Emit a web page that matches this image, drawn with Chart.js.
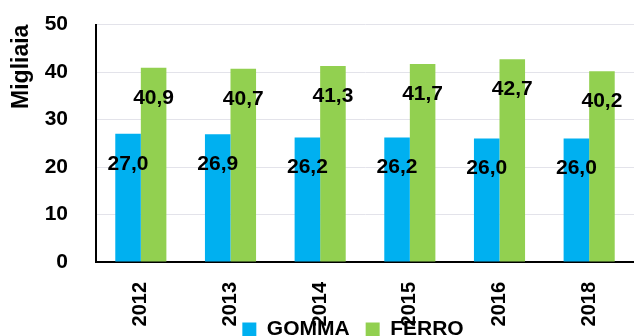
<!DOCTYPE html>
<html>
<head>
<meta charset="utf-8">
<script src="https://cdn.jsdelivr.net/npm/chart.js@4"></script>
<style>
  html, body { margin: 0; padding: 0; background: #fff; overflow: hidden; }
  #wrap { width: 634px; height: 336px; overflow: hidden; }
  #box { width: 634px; height: 389px; margin-top: -16px; position: relative; }
</style>
</head>
<body>
<div id="wrap"><div id="box"><canvas id="canvas"></canvas></div></div>
<script>
// data
const years = ['2012', '2013', '2014', '2015', '2016', '2018']
const gomma = [27.0, 26.9, 26.2, 26.2, 26.0, 26.0]
const ferro = [40.9, 40.7, 41.3, 41.7, 42.7, 40.2]
const yTicks = [0, 10, 20, 30, 40, 50]

const FONT = "'Liberation Sans', Arial, sans-serif"

// values written inside the bars, near the top
const barLabels = {
    id: 'barLabels',
    afterDatasetsDraw(chart) {
        const ctx = chart.ctx
        ctx.save()
        ctx.font = 'bold 21px ' + FONT
        ctx.fillStyle = '#000'
        ctx.textAlign = 'center'
        ctx.textBaseline = 'middle'
        chart.data.datasets.forEach((ds, i) => {
            chart.getDatasetMeta(i).data.forEach((bar, j) => {
                let txt = ds.data[j].toFixed(1).replace('.', ',')
                ctx.fillText(txt, bar.x, bar.y + 30)
            })
        })
        ctx.restore()
    }
}

// the legend sits over the bottom of the year labels, like in the original
const moveLegend = {
    id: 'moveLegend',
    afterLayout(chart) {
        const lg = chart.legend
        const h = lg.height
        lg.top = chart.chartArea.bottom + 41
        lg.bottom = lg.top + h
        lg.left -= 12
        lg.right -= 12
    }
}

new Chart(document.querySelector('#canvas'), {
    type: 'bar',
    data: {
        labels: years,
        datasets: [{
            label: 'GOMMA',
            data: gomma,
            backgroundColor: '#00B0F0',
            barPercentage: 1,
            categoryPercentage: 0.57
        }, {
            label: 'FERRO',
            data: ferro,
            backgroundColor: '#92D050',
            barPercentage: 1,
            categoryPercentage: 0.57
        }]
    },
    options: {
        responsive: true,
        maintainAspectRatio: false,
        animation: false,
        layout: { padding: 0 },
        scales: {
            x: {
                grid: { display: false },
                border: { color: '#000', width: 2 },
                ticks: {
                    color: '#000',
                    minRotation: 90,
                    maxRotation: 90,
                    padding: 12,
                    font: { family: FONT, size: 20, weight: 'bold' }
                },
                afterFit: (scale) => { scale.height = 64 }
            },
            y: {
                min: 0,
                max: 50,
                afterBuildTicks: (scale) => { scale.ticks = yTicks.map(v => ({ value: v })) },
                grid: { color: '#e3e3ea', lineWidth: 1, drawTicks: false },
                border: { color: '#000', width: 2 },
                ticks: {
                    color: '#000',
                    padding: 28,
                    font: { family: FONT, size: 21, weight: 'bold' }
                },
                title: {
                    display: true,
                    text: 'Migliaia',
                    align: 'end',
                    color: '#000',
                    padding: { top: 8, bottom: 0 },
                    font: { family: FONT, size: 23, weight: 'bold' }
                },
                afterFit: (scale) => { scale.width = 96 }
            }
        },
        plugins: {
            legend: {
                position: 'bottom',
                fullSize: false,
                labels: {
                    color: '#000',
                    boxWidth: 14,
                    boxHeight: 14,
                    padding: 16,
                    font: { family: FONT, size: 21, weight: 'bold' }
                }
            },
            tooltip: { enabled: false }
        }
    },
    plugins: [barLabels, moveLegend]
})
</script>
</body>
</html>
